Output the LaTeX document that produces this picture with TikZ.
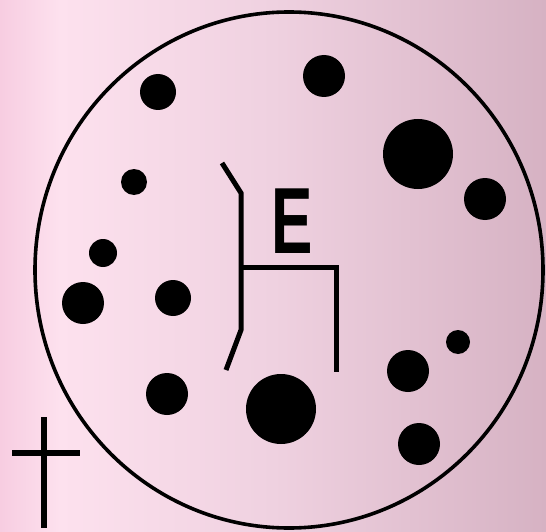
\documentclass[tikz,border=0pt]{standalone}
\usepackage{fontspec}
\usepackage{graphicx}
\newfontfamily\signfont{Liberation Sans}
\definecolor{bgA}{HTML}{F7CDE1}
\definecolor{bgB}{HTML}{FDE1EE}
\definecolor{bgC}{HTML}{EFD1E0}
\definecolor{bgD}{HTML}{D6B2C3}
\pgfdeclarehorizontalshading{bgshade}{100bp}{color(0bp)=(bgA); color(25bp)=(bgA); color(30.5bp)=(bgB); color(50bp)=(bgC); color(75bp)=(bgD); color(100bp)=(bgD)}
\begin{document}
\begin{tikzpicture}[x=1pt,y=-1pt,
  rim/.style={draw=black,line width=3.6pt},
  signline/.style={draw=black,line width=5pt,line join=miter},
  crossline/.style={draw=black,line width=6.5pt},
  blob/.style={fill=black}]
\useasboundingbox (0,0) rectangle (546,532);
\shade[shading=bgshade] (0,0) rectangle (546,532);
% large circle
\coordinate (c) at (289,270);
\draw[rim] (c) ellipse [x radius=254, y radius=258];
% dots
\fill[blob] (158,92) circle (18);
\fill[blob] (324,76) circle (21);
\fill[blob] (418,154) circle (35);
\fill[blob] (485,199) circle (21);
\fill[blob] (134,182) circle (13);
\fill[blob] (103,253) circle (14);
\fill[blob] (83,303) circle (21);
\fill[blob] (173,298) circle (18);
\fill[blob] (167,394) circle (21);
\fill[blob] (281,409) circle (35);
\fill[blob] (408,371) circle (21);
\fill[blob] (419,444) circle (21);
\fill[blob] (458,342) circle (12);
% sign
\coordinate (b1) at (222,163);
\coordinate (b2) at (241,193);
\coordinate (b3) at (241,330);
\coordinate (b4) at (226,370);
\coordinate (h1) at (241,267);
\coordinate (h2) at (336,267);
\coordinate (h3) at (336,372);
\draw[signline] (b1) -- (b2) -- (b3) -- (b4);
\draw[signline] (h1) -- (h2) -- (h3);
\node[inner sep=0pt,anchor=center] (E) at (292.5,221.5) {\scalebox{0.66}[1]{\signfont\bfseries\fontsize{94}{94}\selectfont E}};
% cross
\coordinate (v1) at (44,417);
\coordinate (v2) at (44,528);
\coordinate (hh1) at (12,453);
\coordinate (hh2) at (80,453);
\draw[crossline] (v1) -- (v2);
\draw[crossline] (hh1) -- (hh2);
\end{tikzpicture}
\end{document}
